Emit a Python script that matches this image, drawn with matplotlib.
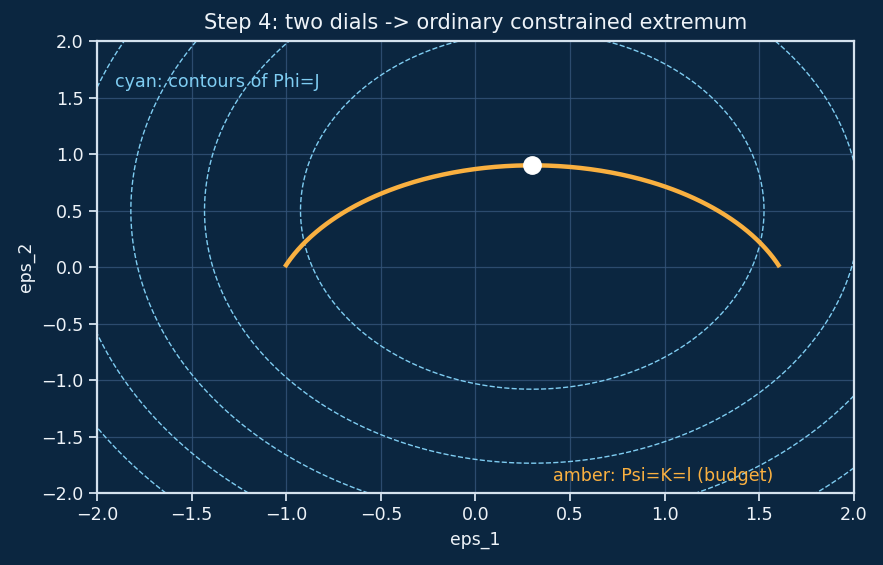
import numpy as np
import matplotlib
matplotlib.use("Agg")
import matplotlib.pyplot as plt

# ---- data ----
phi_center = (0.3, 0.5)          # centre of Phi contours
phi_weights = (1.0, 0.6)         # Phi = w1*(e1-c1)^2 + w2*(e2-c2)^2
phi_levels = [1.5, 3.0, 4.5, 6.0, 7.5]
psi_center = (0.3, -0.5)         # centre of the budget circle
psi_radius = 1.4                 # radius of the budget circle (arc above eps_2 = 0)
opt_point = (0.3, 0.9)           # constrained extremum
x_ticks = [-2.0, -1.5, -1.0, -0.5, 0.0, 0.5, 1.0, 1.5, 2.0]
y_ticks = [-2.0, -1.5, -1.0, -0.5, 0.0, 0.5, 1.0, 1.5, 2.0]

BG = "#0b2640"
CYAN = "#7fcdf2"
AMBER = "#f9b040"
FG = "#eef3f8"
SPINE = "#d5e2ee"
GRID = "#35557a"

fig = plt.figure(figsize=(8.83, 5.65), dpi=100, facecolor=BG)
ax = fig.add_axes([0.1099, 0.1274, 0.8572, 0.8000])
ax.set_facecolor(BG)

g1 = np.linspace(-2, 2, 401)
g2 = np.linspace(-2, 2, 401)
E1, E2 = np.meshgrid(g1, g2)
PHI = phi_weights[0] * (E1 - phi_center[0]) ** 2 + phi_weights[1] * (E2 - phi_center[1]) ** 2
ax.contour(E1, E2, PHI, levels=phi_levels, colors=CYAN, linewidths=1.0,
           linestyles="--", zorder=2)

a0 = np.arcsin(-psi_center[1] / psi_radius)
t = np.linspace(a0, np.pi - a0, 300)
ax.plot(psi_center[0] + psi_radius * np.cos(t), psi_center[1] + psi_radius * np.sin(t),
        color=AMBER, lw=3.2, zorder=3, solid_capstyle="butt")
ax.plot([opt_point[0]], [opt_point[1]], "o", color="white", ms=12.5, zorder=4)

ax.set_xlim(-2, 2)
ax.set_ylim(-2, 2)
ax.set_xticks(x_ticks)
ax.set_yticks(y_ticks)
ax.grid(True, color=GRID, lw=0.9, alpha=0.8, zorder=0)
ax.set_axisbelow(True)
for s in ax.spines.values():
    s.set_color(SPINE)
    s.set_linewidth(1.6)
ax.tick_params(colors=FG, labelsize=12.6, length=5.5, width=1.3, labelcolor=FG, pad=4)
ax.tick_params(axis="both", color=SPINE)
ax.set_xlabel("eps_1", color=FG, fontsize=12.4, labelpad=5)
ax.set_ylabel("eps_2", color=FG, fontsize=12.4, labelpad=5)
ax.set_title("Step 4: two dials -> ordinary constrained extremum", color=FG, fontsize=15, pad=9)

ax.text(0.024, 0.91, "cyan: contours of Phi=J", transform=ax.transAxes, color=CYAN,
        fontsize=12.6, va="center", ha="left")
ax.text(0.603, 0.037, "amber: Psi=K=l (budget)", transform=ax.transAxes, color=AMBER,
        fontsize=12.6, va="center", ha="left")

fig.savefig("out.png", dpi=100, facecolor=BG)
